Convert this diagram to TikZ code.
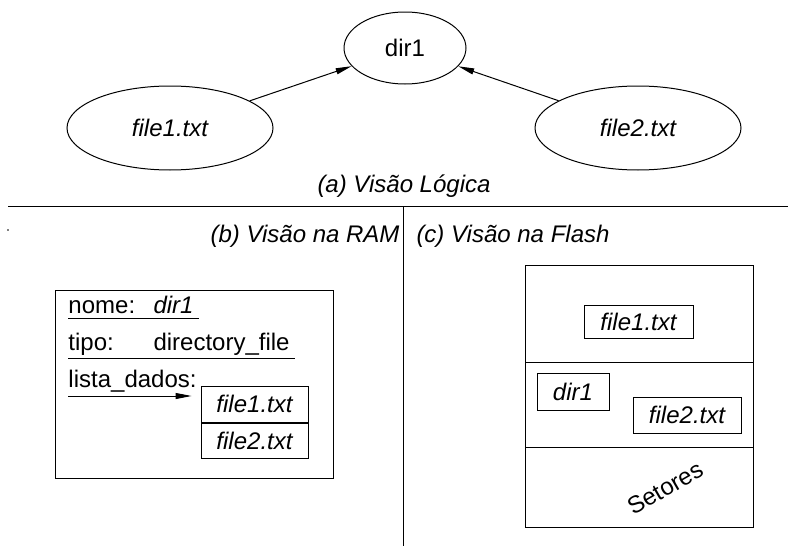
\documentclass[tikz,border=0pt]{standalone}
\usepackage{fontspec}
\setmainfont{Liberation Sans}
\usetikzlibrary{shapes.geometric,arrows.meta}
\begin{document}
\begin{tikzpicture}[x=0.5pt,y=-0.5pt,>={Triangle[length=8pt,width=3pt]},line width=0.5pt,
	font=\fontsize{12}{14}\selectfont,
	elip/.style={draw,ellipse,inner sep=0pt},
	caixa/.style={draw,inner sep=0pt,minimum width=#1},
	rotulo/.style={font=\fontsize{12}{14}\selectfont\itshape}]
		\useasboundingbox (0,0) rectangle (788,546);
		% visao logica
		\node[elip,minimum width=61pt,minimum height=36pt] (d1) at (405,48) {dir1};
		\node[elip,minimum width=103pt,minimum height=42pt,rotulo] (f1) at (170,128) {file1.txt};
		\node[elip,minimum width=103pt,minimum height=42pt,rotulo] (f2) at (638,128) {file2.txt};
		\draw[->] (f1)--(d1);
		\draw[->] (f2)--(d1);
		\node[rotulo] (capa) at (404,186) {(a) Visão Lógica};
		
		\draw (8,206)--(788,206);
		\draw (403,206)--(403,546);
		\fill (8,230) circle (0.4pt);
		\node[rotulo,anchor=east,inner sep=0pt] (capb) at (400,236) {(b) Visão na RAM};
		\node[rotulo,anchor=west,inner sep=0pt] (capc) at (416,236) {(c) Visão na Flash};
		
		% RAM
		\draw (55,290) rectangle (333,478);
		\node[anchor=base west,inner sep=0pt] (nome) at (68,313) {nome:};
		\node[anchor=base west,inner sep=0pt,rotulo] (nomev) at (153,313) {dir1};
		\draw (68,318)--(199,318);
		\node[anchor=base west,inner sep=0pt] (tipo) at (68,350) {tipo:};
		\node[anchor=base west,inner sep=0pt] (tipov) at (153,350) {directory\_file};
		\draw (68,358)--(295,358);
		\node[anchor=base west,inner sep=0pt] (lista) at (68,387) {lista\_dados:};
		\node[caixa=53.5pt,minimum height=18pt,rotulo] (l1) at (254.5,404) {file1.txt};
		\node[caixa=53.5pt,minimum height=17.5pt,rotulo,anchor=north] (l2) at (l1.south) {file2.txt};
		\coordinate (ls) at (68,396);
		\draw[->,shorten >=4.5pt] (ls)--(l1.west |- ls);
		
		% Flash
		\draw (525,265) rectangle (753,527);
		\draw (525,362)--(753,362);
		\draw (525,447)--(753,447);
		\node[caixa=54.5pt,minimum height=16.5pt,rotulo] (s1) at (638.5,321.5) {file1.txt};
		\node[caixa=36pt,minimum height=18.5pt,rotulo] (s2) at (573,391.5) {dir1};
		\node[caixa=54pt,minimum height=18pt,rotulo] (s3) at (687,415) {file2.txt};
		\node[rotate=30,inner sep=0pt] (set) at (665,488) {Setores};
\end{tikzpicture}
\end{document}
